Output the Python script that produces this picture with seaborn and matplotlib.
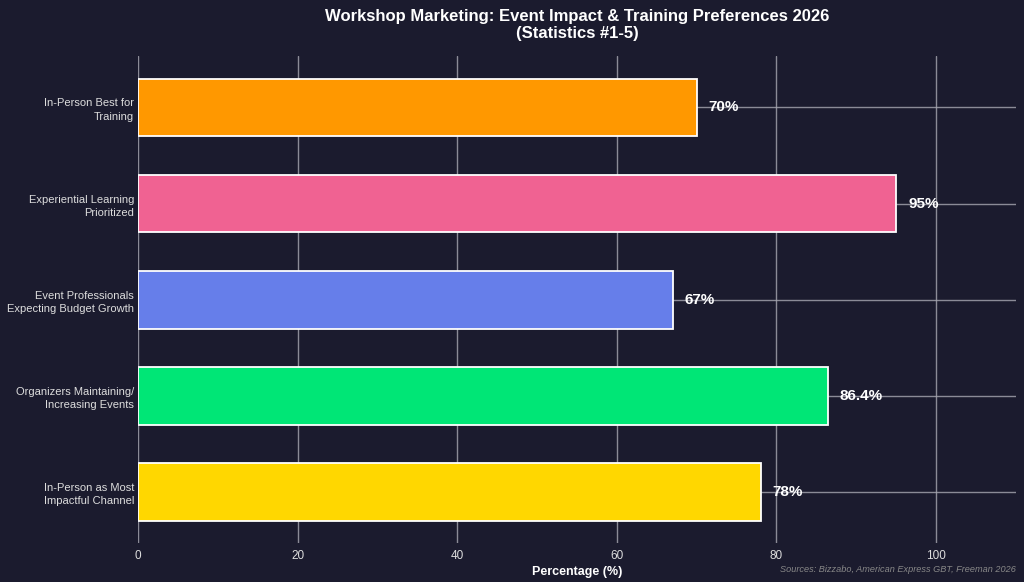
import matplotlib
matplotlib.use("Agg")
import matplotlib.pyplot as plt
import seaborn as sns
import pandas as pd

BG = "#1b1b2e"

labels = [
    "In-Person Best for\nTraining",
    "Experiential Learning\nPrioritized",
    "Event Professionals\nExpecting Budget Growth",
    "Organizers Maintaining/\nIncreasing Events",
    "In-Person as Most\nImpactful Channel",
]
values = [70, 95, 67, 86.4, 78]
value_text = ["70%", "95%", "67%", "86.4%", "78%"]
colors = ["#ff9800", "#f06292", "#667eea", "#00e676", "#ffd700"]

df = pd.DataFrame({"label": labels, "value": values})

sns.set_theme(style="darkgrid")
plt.rcParams["font.family"] = ["Liberation Sans", "DejaVu Sans"]

fig, ax = plt.subplots(figsize=(10.24, 5.82), dpi=100)
fig.patch.set_facecolor(BG)
ax.set_facecolor(BG)

sns.barplot(data=df, x="value", y="label", hue="label", palette=colors, legend=False,
            orient="h", width=0.6, edgecolor="white", linewidth=1.3, saturation=1, ax=ax)

for i, (v, t) in enumerate(zip(values, value_text)):
    ax.text(v + 1.5, i, t, va="center", ha="left", color="white", fontsize=11, fontweight="bold")

ax.set_xlim(0, 110)
ax.set_ylim(4.53, -0.53)
ax.grid(True, color="#a8a8b2", linewidth=1, alpha=0.8)
ax.set_axisbelow(True)
for s in ax.spines.values():
    s.set_visible(False)
ax.tick_params(axis="y", length=0, colors="#dddddd", labelsize=8, pad=3)
ax.tick_params(axis="x", length=0, colors="#dddddd", labelsize=8.5, pad=5)
for lab in ax.get_yticklabels():
    lab.set_linespacing(1.4)
ax.set_ylabel("")
ax.set_xlabel("Percentage (%)", color="white", fontsize=9, fontweight="bold", labelpad=3)
ax.set_title("Workshop Marketing: Event Impact & Training Preferences 2026\n(Statistics #1-5)",
             color="white", fontsize=12, fontweight="bold", pad=13)

fig.text(0.992, 0.013, "Sources: Bizzabo, American Express GBT, Freeman 2026", ha="right", va="bottom",
         color="#888888", fontsize=6.6, style="italic")

plt.subplots_adjust(left=0.135, right=0.992, top=0.903, bottom=0.067)
plt.savefig("out.png", dpi=100, facecolor=BG)
plt.close()
